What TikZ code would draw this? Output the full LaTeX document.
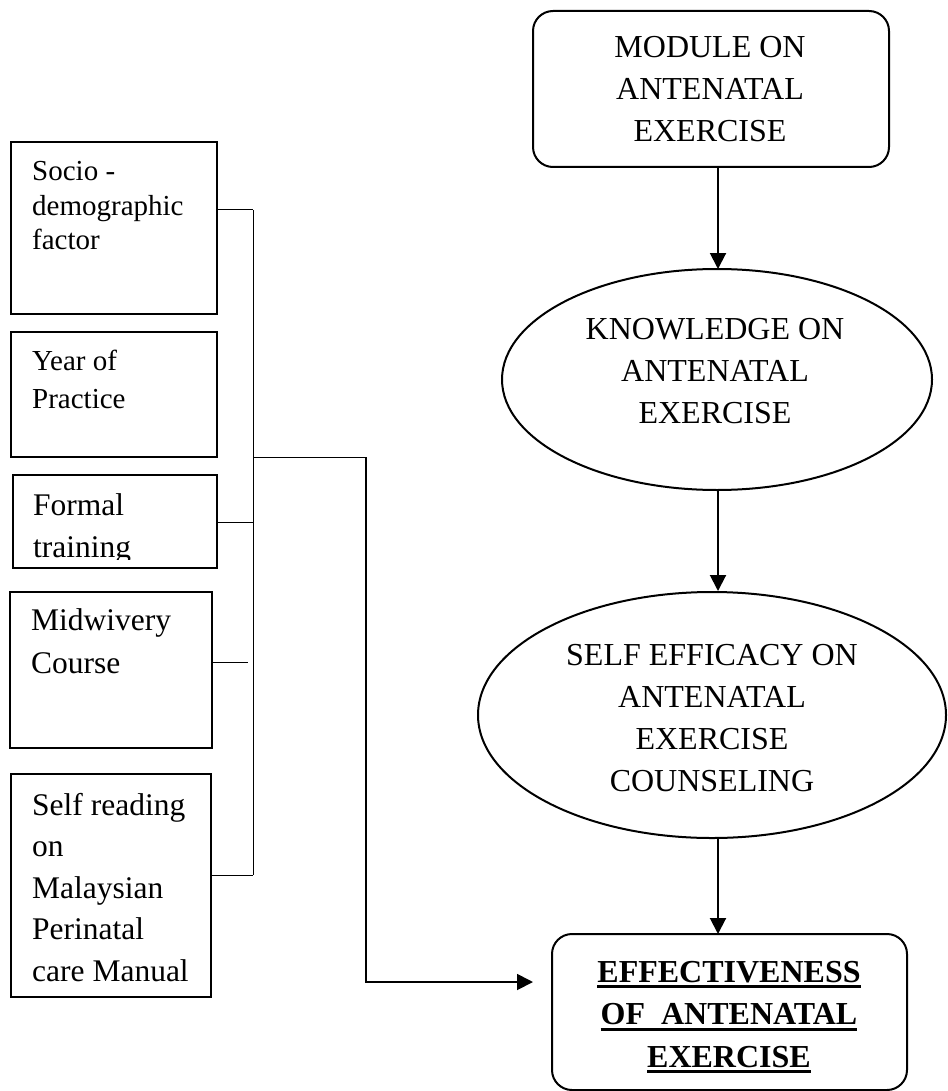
\documentclass[tikz,border=0pt]{standalone}
\usepackage{fontspec}
\setmainfont{Liberation Serif}
\usetikzlibrary{arrows.meta,shapes.geometric}
\newcommand\myul[1]{\setbox0\hbox{#1}\rlap{\rule[-6pt]{\wd0}{2.8pt}}\box0}
\tikzset{
  lbox/.style={draw, line width=1.7pt, rectangle, inner sep=0pt, outer sep=0pt},
  rbox/.style={draw, line width=2pt, rectangle, rounded corners=20pt, inner sep=0pt, outer sep=0pt},
  oval/.style={draw, line width=2pt, ellipse, inner sep=0pt, outer sep=0pt},
  ltext/.style={anchor=base west, inner sep=0pt, align=left},
  ctext/.style={anchor=base, inner sep=0pt, align=center, font=\fontsize{32}{42}\selectfont},
  thinline/.style={line width=1pt},
  arr/.style={line width=2pt, -{Triangle[length=16pt,width=16pt]}}
}
\begin{document}
\begin{tikzpicture}[x=1pt,y=-1pt]
\useasboundingbox (0,0) rectangle (947,1091);

% left boxes
\node[lbox, minimum width=206, minimum height=172] (b1) at (114,228) {};
\node[lbox, minimum width=206, minimum height=125] (b2) at (114,394.5) {};
\node[lbox, minimum width=204, minimum height=93] (b3) at (115,521.5) {};
\node[lbox, minimum width=202, minimum height=156] (b4) at (111,670) {};
\node[lbox, minimum width=200, minimum height=223] (b5) at (111,885.5) {};

% text nodes: base anchor = baseline of last line
\node[ltext, font=\fontsize{29}{35}\selectfont] (t1) at (32,250) {Socio -\\demographic\\factor};
\node[ltext, font=\fontsize{29}{38}\selectfont] (t2) at (32,408) {Year of\\Practice};
\begin{scope}
  \clip (13,475) rectangle (217,559);
  \node[ltext, font=\fontsize{31.5}{42}\selectfont] (t3) at (33,557) {Formal\\training};
\end{scope}
\node[ltext, font=\fontsize{31.5}{43}\selectfont] (t4) at (31,673) {Midwivery\\Course};
\node[ltext, font=\fontsize{31.5}{41.5}\selectfont] (t5) at (32,981) {Self reading\\on\\Malaysian\\Perinatal\\care Manual};

% right column
\node[rbox, minimum width=356, minimum height=156] (mod) at (711,89) {};
\node[ctext] (tm) at (710,142) {MODULE ON\\ANTENATAL\\EXERCISE};

\node[oval, minimum width=430, minimum height=221] (e1) at (717,379.5) {};
\node[ctext] (te1) at (715,423) {KNOWLEDGE ON\\ANTENATAL\\EXERCISE};

\node[oval, minimum width=468, minimum height=246] (e2) at (712,715) {};
\node[ctext] (te2) at (712,791) {SELF EFFICACY ON\\ANTENATAL\\EXERCISE\\COUNSELING};

\node[rbox, minimum width=355, minimum height=156] (eff) at (729.5,1012) {};
\node[ctext, font=\fontsize{32}{42.5}\selectfont\bfseries] (teff) at (729,1067)
  {\myul{EFFECTIVENESS}\\\myul{OF\ \ ANTENATAL}\\\myul{EXERCISE}};

% vertical arrows
\coordinate (ax) at (718,0);
\draw[arr] (mod.south -| ax) -- (e1.north -| ax);
\draw[arr] (e1.south -| ax) -- ([yshift=1pt]e2.north -| ax);
\draw[arr] (e2.south -| ax) -- (eff.north -| ax);

% left connectors
\coordinate (s1) at (253,210);
\coordinate (sj) at (253,457);
\coordinate (s3) at (253,522);
\coordinate (s4) at (248,662);
\coordinate (s5) at (253,875);
\coordinate (k1) at (366,457);
\coordinate (tip) at (533,982);

\draw[thinline] (s1) -- (s5);
\draw[thinline] (s1 -| b1.east) -- (s1);
\draw[thinline] (s3 -| b3.east) -- (s3);
\draw[thinline] (s4 -| b4.east) -- (s4);
\draw[thinline] (s5 -| b5.east) -- (s5);
\draw[thinline] (sj) -- (k1);
\draw[arr, line width=1.8pt] (k1) |- (tip);
\end{tikzpicture}
\end{document}
